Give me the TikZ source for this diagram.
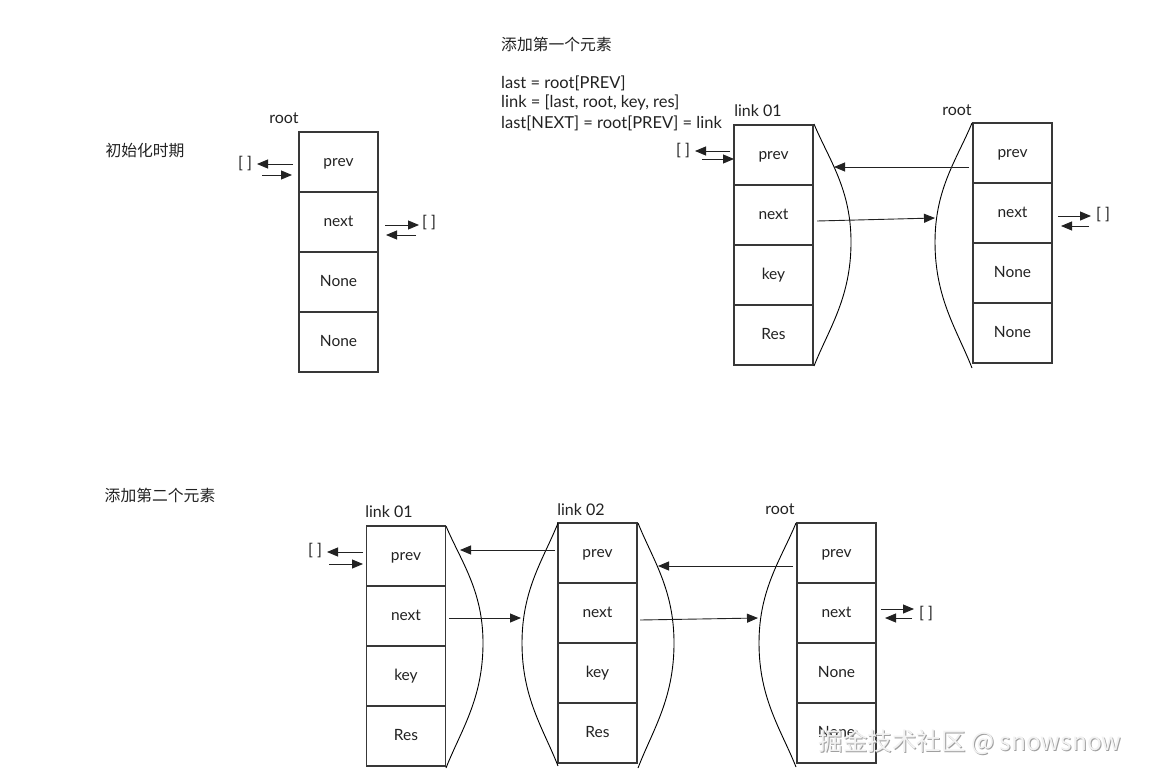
\documentclass[tikz,border=0pt]{standalone}
\usepackage{fontspec}
\setmainfont{Lato}
\newfontfamily\cjk{Noto Sans CJK SC}
\usetikzlibrary{arrows.meta}
\definecolor{ink}{HTML}{222222}
\newcommand{\mybulge}[5]{\draw[brace] (#1,#2) .. controls ({#1+0.4*(#3-#1)},{#2+0.3*(#4-#2)}) and (#3,{#2+0.55*(#4-#2)}) .. (#3,#4) .. controls (#3,{#4+0.45*(#5-#4)}) and ({#1+0.4*(#3-#1)},{#5-0.3*(#5-#4)}) .. (#1,#5);}
\begin{document}
\begin{tikzpicture}[x=1pt,y=-1pt,
  cell/.style={draw=ink!90, line width=1.1pt, minimum width=79pt, minimum height=60pt, inner sep=0pt, font=\fontsize{15.5}{18}\selectfont, text=ink, text height=8.5pt, text depth=0.5pt},
  lbl/.style={font=\fontsize{16}{19}\selectfont, text=ink, inner sep=0pt},
  code/.style={font=\fontsize{16.5}{20}\selectfont, text=ink, inner sep=0pt, anchor=west},
  zh/.style={font=\cjk\fontsize{15.8}{18}\selectfont, text=ink, inner sep=0pt},
  arr/.style={draw=ink, line width=0.9pt, -{Triangle[length=11pt,width=9pt]}},
  brace/.style={draw=black, line width=0.9pt}]
\useasboundingbox (0,0) rectangle (1150,779);
\fill[white] (0,0) rectangle (1150,779);

% ---------- diagram 1 ----------
\node[zh] (t1) at (145,151) {初始化时期};
\node[lbl] (r1) at (284,118) {root};
\node[cell] (a1) at (338.5,162) {prev};
\node[cell] (a2) at (338.5,222) {next};
\node[cell] (a3) at (338.5,282) {None};
\node[cell] (a4) at (338.5,342) {None};
\node[lbl] (la) at (245,164) {[ ]};
\node[lbl] (ra) at (429,223) {[ ]};
\draw[arr] (293,164) -- (257,164);
\draw[arr] (262,175) -- (292,175);
\draw[arr] (385,225) -- (419,225);
\draw[arr] (416,235) -- (386,235);

% ---------- diagram 2 ----------
\node[zh, anchor=west] (t2) at (501,44) {添加第一个元素};
\node[code] (c1) at (501,83) {last = root[PREV]};
\node[code] (c2) at (501,103) {link = [last, root, key, res]};
\node[code] (c3) at (501,123) {last[NEXT] = root[PREV] = link};

\node[lbl] (lb) at (758,111) {link 01};
\node[cell] (b1) at (773.5,155) {prev};
\node[cell] (b2) at (773.5,215) {next};
\node[cell] (b3) at (773.5,275) {key};
\node[cell] (b4) at (773.5,335) {Res};
\mybulge{814}{124}{851}{242}{366}

\node[lbl] (rc) at (957,110) {root};
\node[cell] (c1b) at (1012.5,153) {prev};
\node[cell] (c2b) at (1012.5,213) {next};
\node[cell] (c3b) at (1012.5,273) {None};
\node[cell] (c4b) at (1012.5,333) {None};
\mybulge{972}{123}{935}{242}{368}

\node[lbl] (lb2) at (683,151) {[ ]};
\draw[arr] (730,151) -- (695,151);
\draw[arr] (702,159) -- (734,159);
\draw[arr] (969,167) -- (834,167);
\draw[arr] (817,221) -- (935,218);
\node[lbl] (rc2) at (1103,215) {[ ]};
\draw[arr] (1058,216) -- (1091,216);
\draw[arr] (1089,226) -- (1061,226);

% ---------- diagram 3 ----------
\node[zh] (t3) at (160,495) {添加第二个元素};

\node[lbl] (ld) at (389,512) {link 01};
\node[cell] (d1) at (406,556) {prev};
\node[cell] (d2) at (406,616) {next};
\node[cell] (d3) at (406,676) {key};
\node[cell] (d4) at (406,736) {Res};
\mybulge{446}{526}{483}{643}{768}

\node[lbl] (le) at (581,510) {link 02};
\node[cell] (e1) at (597.5,553) {prev};
\node[cell] (e2) at (597.5,613) {next};
\node[cell] (e3) at (597.5,673) {key};
\node[cell] (e4) at (597.5,733) {Res};
\mybulge{558}{523}{522}{643}{766}
\mybulge{638}{523}{674}{643}{768}

\node[lbl] (lf) at (780,509) {root};
\node[cell] (f1) at (836.5,553) {prev};
\node[cell] (f2) at (836.5,613) {next};
\node[cell] (f3) at (836.5,673) {None};
\node[cell] (f4) at (836.5,733) {None};
\mybulge{796}{523}{759}{643}{767}

\node[lbl] (ld2) at (315,551) {[ ]};
\draw[arr] (363,552) -- (327,552);
\draw[arr] (329,564) -- (363,564);
\draw[arr] (555,550) -- (460,550);
\draw[arr] (449,618) -- (521,618);
\draw[arr] (793,566) -- (658,566);
\draw[arr] (640,620) -- (758,618);
\node[lbl] (rf) at (926,614) {[ ]};
\draw[arr] (881,609) -- (914,609);
\draw[arr] (912,618) -- (885,618);

% ---------- watermark ----------
\node[font=\cjk\fontsize{24.5}{28}\selectfont, text=gray!75, inner sep=0pt] (wms) at (971,743) {掘金技术社区 @ snowsnow};
\node[font=\cjk\fontsize{24.5}{28}\selectfont, text=white!90!gray, inner sep=0pt] (wm) at (970,742) {掘金技术社区 @ snowsnow};
\end{tikzpicture}
\end{document}
